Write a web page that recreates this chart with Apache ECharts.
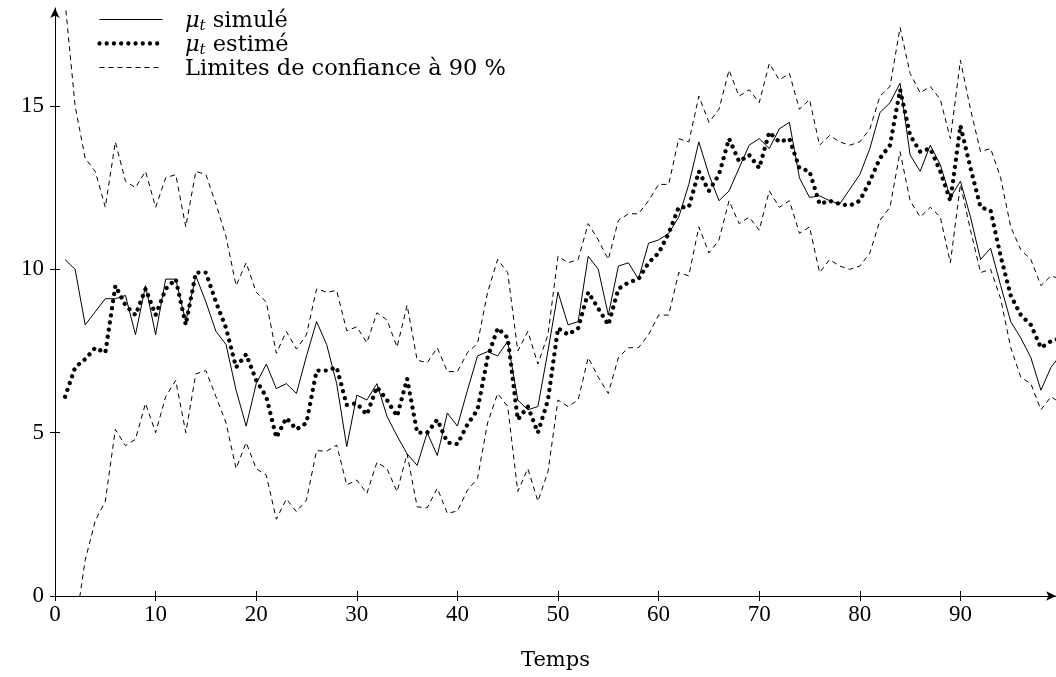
<!DOCTYPE html>
<html>
<head>
<meta charset="utf-8">
<script src="https://cdn.jsdelivr.net/npm/echarts@6/dist/echarts.min.js"></script>
<style>
html,body{margin:0;padding:0;background:#fff;}
#chart{width:1056px;height:677px;}
</style>
</head>
<body>
<div id="chart"></div>
<script>
// Time index
const temps = [1,2,3,4,5,6,7,8,9,10,11,12,13,14,15,16,17,18,19,20,
  21,22,23,24,25,26,27,28,29,30,31,32,33,34,35,36,37,38,39,40,
  41,42,43,44,45,46,47,48,49,50,51,52,53,54,55,56,57,58,59,60,
  61,62,63,64,65,66,67,68,69,70,71,72,73,74,75,76,77,78,79,80,
  81,82,83,84,85,86,87,88,89,90,91,92,93,94,95,96,97,98,99,100];

// mu_t simulé
const simule = [10.3,10.0,8.3,8.7,9.1,9.1,9.2,8.0,9.5,8.0,9.7,9.7,8.4,9.8,9.0,8.1,7.7,6.3,5.2,6.5,
  7.1,6.35,6.5,6.2,7.35,8.4,7.7,6.5,4.57,6.15,6.0,6.5,5.5,4.9,4.35,4.0,5.0,4.3,5.6,5.2,
  6.3,7.35,7.48,7.35,7.8,6.0,5.7,5.8,7.5,9.3,8.3,8.4,10.4,10.0,8.6,10.1,10.2,9.7,10.8,10.9,
  11.1,11.6,12.6,13.9,12.9,12.1,12.4,13.1,13.8,14.0,13.7,14.3,14.5,12.8,12.2,12.25,12.1,12.0,12.45,12.9,
  13.7,14.8,15.1,15.7,13.5,13.0,13.8,13.2,12.2,12.7,11.6,10.3,10.65,9.5,8.4,7.9,7.3,6.3,7.0,7.4];

// mu_t estimé
const estime = [6.1,7.0,7.25,7.6,7.45,9.5,8.9,8.6,9.4,8.6,9.4,9.7,8.3,9.9,9.9,9.0,8.2,7.0,7.4,6.6,
  6.1,4.85,5.45,5.1,5.3,6.9,6.9,7.0,5.85,5.9,5.55,6.4,6.0,5.5,6.65,5.0,5.0,5.4,4.7,4.65,
  5.25,5.7,7.3,8.2,7.9,5.4,5.8,5.0,6.0,8.2,8.0,8.2,9.3,8.8,8.3,9.4,9.6,9.7,10.2,10.5,
  11.1,11.9,11.9,13.0,12.4,12.9,14.0,13.3,13.5,13.1,14.2,13.9,14.0,13.1,13.0,12.0,12.1,12.0,11.95,12.1,
  12.7,13.4,13.8,15.5,14.1,13.6,13.7,13.0,12.1,14.4,13.1,11.9,11.8,10.4,9.2,8.6,8.3,7.6,7.8,7.9];

// Limite supérieure (90 %)
const borneSup = [18.2,15.0,13.4,13.0,11.9,13.9,12.7,12.5,13.0,11.9,12.8,12.9,11.3,13.0,12.9,12.0,11.0,9.5,10.2,9.3,
  9.0,7.43,8.1,7.56,8.0,9.4,9.3,9.35,8.12,8.24,7.75,8.67,8.45,7.62,8.9,7.22,7.14,7.6,6.87,6.87,
  7.45,7.73,9.3,10.3,9.9,7.5,8.1,7.1,8.0,10.4,10.2,10.3,11.4,10.9,10.3,11.5,11.7,11.7,12.1,12.6,
  12.6,14.0,13.9,15.3,14.5,14.9,16.1,15.3,15.5,15.1,16.3,15.8,16.0,14.9,15.2,13.8,14.1,13.9,13.8,13.9,
  14.3,15.3,15.6,17.4,16.0,15.4,15.6,15.2,14.0,16.4,14.9,13.6,13.7,12.8,11.3,10.6,10.3,9.5,9.8,9.7];

// Limite inférieure (90 %)
const borneInf = [-5.8,-1.0,1.1,2.3,2.9,5.1,4.6,4.8,5.9,5.0,6.1,6.6,5.0,6.8,6.9,6.1,5.3,3.9,4.7,3.9,
  3.7,2.35,2.97,2.58,2.94,4.45,4.43,4.62,3.4,3.55,3.14,4.09,3.9,3.19,4.35,2.73,2.7,3.3,2.53,2.6,
  3.24,3.6,5.3,6.2,5.8,3.2,3.9,2.9,3.8,6.0,5.8,6.0,7.3,6.7,6.2,7.3,7.6,7.6,8.0,8.6,
  8.6,9.9,9.8,11.3,10.5,10.9,12.1,11.4,11.6,11.2,12.4,11.9,12.1,11.1,11.3,9.9,10.3,10.1,10.0,10.1,
  10.5,11.5,11.9,13.6,12.1,11.6,11.9,11.6,10.2,12.6,11.2,9.9,10.0,9.1,7.6,6.7,6.5,5.7,6.1,5.9];

const xTicks = [0,10,20,30,40,50,60,70,80,90];
const yTicks = [0,5,10,15];

const legendLabels = ['{mu|μ}{sub|t} simulé', '{mu|μ}{sub|t} estimé', 'Limites de confiance à 90 %'];

function pairs(vals){ return temps.map((t,i)=>[t, vals[i]]); }

const serif = 'DejaVu Serif';
const chart = echarts.init(document.getElementById('chart'), null, {renderer:'canvas'});

const solidStyle = {color:'#000', width:1};
const dottedStyle = {color:'#000', width:4.3, type:[0.01,7.2], cap:'round'};
const dashedStyle = {color:'#000', width:1, type:[5,4]};

const richText = {
  mu:{fontFamily:serif, fontStyle:'italic', fontSize:22.5, fill:'#000', color:'#000'},
  sub:{fontFamily:serif, fontStyle:'italic', fontSize:15, fill:'#000', color:'#000', padding:[10,0,0,0]}
};

function legendRow(y, lineStyleObj, label){
  return [
    {type:'line', left:97, top:y - 3, shape:{x1:0, y1:3, x2:63, y2:3},
     style:{stroke:'#000', lineWidth:lineStyleObj.width,
            lineDash:Array.isArray(lineStyleObj.type) ? lineStyleObj.type : null,
            lineCap:lineStyleObj.cap || 'butt'}},
    {type:'text', x:185, y:y + 1,
     style:{text:label, font:'22.5px "DejaVu Serif"', fill:'#000', verticalAlign:'middle', align:'left', rich:richText}}
  ];
}

chart.setOption({
  animation:false,
  backgroundColor:'#fff',
  grid:{left:55, right:0, top:8, bottom:81, containLabel:false},
  graphic:[].concat(
    legendRow(20, solidStyle, legendLabels[0]),
    legendRow(44, dottedStyle, legendLabels[1]),
    legendRow(68, dashedStyle, legendLabels[2])
  ),
  xAxis:[{
    type:'value', min:0, max:99.5,
    name:'Temps', nameLocation:'middle', nameGap:54,
    nameTextStyle:{fontFamily:serif, fontSize:21, color:'#000'},
    axisLine:{show:true, symbol:['none','arrow'], symbolSize:[7,10], lineStyle:{color:'#000', width:1}},
    axisTick:{show:true, inside:false, length:5, customValues:xTicks, lineStyle:{color:'#000'}},
    axisLabel:{customValues:xTicks, fontFamily:'Liberation Serif', fontSize:23, color:'#000', margin:7},
    splitLine:{show:false}
  },{
    type:'value', min:0, max:99.5, position:'bottom',
    axisLine:{show:false},
    axisTick:{show:true, inside:true, length:5, customValues:xTicks, lineStyle:{color:'#000'}},
    axisLabel:{show:false},
    splitLine:{show:false}
  }],
  yAxis:[{
    type:'value', min:0, max:18,
    axisLine:{show:true, symbol:['none','arrow'], symbolSize:[7,10], lineStyle:{color:'#000', width:1}},
    axisTick:{show:true, inside:false, length:5, customValues:yTicks, lineStyle:{color:'#000'}},
    axisLabel:{customValues:yTicks, fontFamily:'Liberation Serif', fontSize:23, color:'#000', margin:11},
    splitLine:{show:false}
  },{
    type:'value', min:0, max:18, position:'left',
    axisLine:{show:false},
    axisTick:{show:true, inside:true, length:5, customValues:yTicks, lineStyle:{color:'#000'}},
    axisLabel:{show:false},
    splitLine:{show:false}
  }],
  series:[
    {name:'Limite supérieure', type:'line', data:pairs(borneSup), symbol:'none', clip:true, lineStyle:dashedStyle, itemStyle:{color:'#000'}, z:2},
    {name:'Limite inférieure', type:'line', data:pairs(borneInf), symbol:'none', clip:true, lineStyle:dashedStyle, itemStyle:{color:'#000'}, z:2},
    {name:'μt simulé', type:'line', data:pairs(simule), symbol:'none', clip:true, lineStyle:solidStyle, itemStyle:{color:'#000'}, z:3},
    {name:'μt estimé', type:'line', data:pairs(estime), symbol:'none', clip:true, lineStyle:dottedStyle, itemStyle:{color:'#000'}, z:4}
  ]
});
</script>
</body>
</html>
